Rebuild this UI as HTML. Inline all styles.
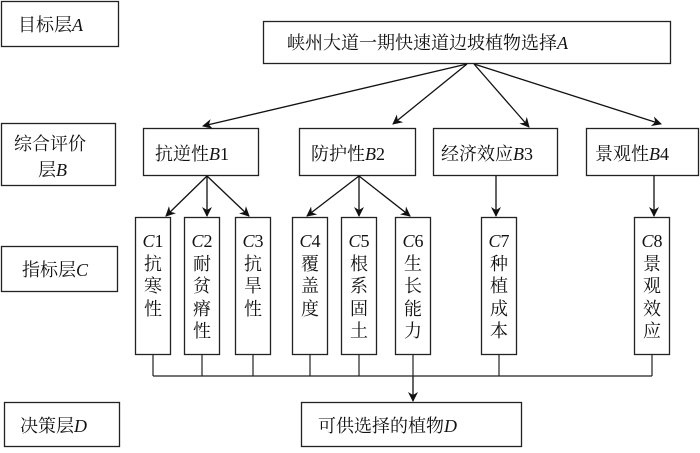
<!DOCTYPE html>
<html><head><meta charset="utf-8"><style>
body{margin:0;background:#fff}
svg text{font-family:"Liberation Serif","Noto Serif CJK SC","Noto Sans CJK SC",serif;font-size:18px;fill:#111}
.i{font-style:italic}
</style></head><body>
<svg width="700" height="448" viewBox="0 0 700 448" xmlns="http://www.w3.org/2000/svg">
<defs><marker id="ar" markerWidth="10" markerHeight="10" refX="9" refY="5" orient="auto" markerUnits="userSpaceOnUse"><path d="M0,0 L10,5 L0,10 L3,5 z" fill="#111"/></marker></defs>
<g fill="none" stroke="#222" stroke-width="1.3">
<rect x="1.5" y="1.5" width="117" height="45"/>
<rect x="1.5" y="123.5" width="114" height="62"/>
<rect x="1.5" y="246.5" width="116" height="45"/>
<rect x="4.5" y="402.5" width="115" height="44"/>
<rect x="263.5" y="21.5" width="407" height="42"/>
<rect x="143.5" y="128.5" width="115" height="47"/>
<rect x="299.5" y="128.5" width="116" height="47"/>
<rect x="433.5" y="128.5" width="124" height="47"/>
<rect x="586.5" y="128.5" width="112" height="47"/>
<rect x="135.5" y="217.5" width="35" height="137"/>
<rect x="184.5" y="217.5" width="35" height="137"/>
<rect x="235.5" y="217.5" width="35" height="137"/>
<rect x="292.5" y="217.5" width="35" height="137"/>
<rect x="341.5" y="217.5" width="35" height="137"/>
<rect x="395.5" y="217.5" width="35" height="137"/>
<rect x="481.5" y="217.5" width="35" height="137"/>
<rect x="634.5" y="217.5" width="35" height="137"/>
<rect x="301.5" y="402.5" width="220" height="44"/>
</g>
<g stroke="#111" stroke-width="1.3" fill="none" marker-end="url(#ar)">
<line x1="467" y1="64" x2="203" y2="126"/>
<line x1="467" y1="64" x2="393" y2="124"/>
<line x1="474" y1="64" x2="529" y2="127"/>
<line x1="474" y1="64" x2="661" y2="124"/>
<line x1="207" y1="176" x2="166" y2="216"/>
<line x1="207" y1="176" x2="207" y2="216"/>
<line x1="207" y1="176" x2="249" y2="216"/>
<line x1="359" y1="176" x2="307" y2="216"/>
<line x1="359" y1="176" x2="359" y2="216"/>
<line x1="359" y1="176" x2="410" y2="216"/>
<line x1="496" y1="176" x2="496" y2="216"/>
<line x1="654" y1="176" x2="654" y2="216"/>
<line x1="413" y1="376" x2="413" y2="401"/>
</g>
<g stroke="#222" stroke-width="1.2" fill="none">
<path d="M153,355V376M202,355V376M253,355V376M310,355V376M359,355V376M413,355V376M499,355V376M652,355V376M153,376H652"/>
</g>
<text x="18" y="31">目标层<tspan class="i">A</tspan></text>
<text x="14" y="150">综合评价</text>
<text x="38" y="176">层<tspan class="i">B</tspan></text>
<text x="22" y="276">指标层<tspan class="i">C</tspan></text>
<text x="20" y="432">决策层<tspan class="i">D</tspan></text>
<text x="287" y="49">峡州大道一期快速道边坡植物选择<tspan class="i">A</tspan></text>
<text x="155" y="160">抗逆性<tspan class="i">B</tspan>1</text>
<text x="311" y="160">防护性<tspan class="i">B</tspan>2</text>
<text x="441" y="160">经济效应<tspan class="i">B</tspan>3</text>
<text x="595" y="160">景观性<tspan class="i">B</tspan>4</text>
<text x="318" y="432">可供选择的植物<tspan class="i">D</tspan></text>
<g text-anchor="middle">
<text x="153" y="247"><tspan class="i">C</tspan>1</text><text x="153" y="270">抗</text><text x="153" y="292">寒</text><text x="153" y="315">性</text>
<text x="202" y="247"><tspan class="i">C</tspan>2</text><text x="202" y="270">耐</text><text x="202" y="292">贫</text><text x="202" y="315">瘠</text><text x="202" y="337">性</text>
<text x="253" y="247"><tspan class="i">C</tspan>3</text><text x="253" y="270">抗</text><text x="253" y="292">旱</text><text x="253" y="315">性</text>
<text x="310" y="247"><tspan class="i">C</tspan>4</text><text x="310" y="270">覆</text><text x="310" y="292">盖</text><text x="310" y="315">度</text>
<text x="359" y="247"><tspan class="i">C</tspan>5</text><text x="359" y="270">根</text><text x="359" y="292">系</text><text x="359" y="315">固</text><text x="359" y="337">土</text>
<text x="413" y="247"><tspan class="i">C</tspan>6</text><text x="413" y="270">生</text><text x="413" y="292">长</text><text x="413" y="315">能</text><text x="413" y="337">力</text>
<text x="499" y="247"><tspan class="i">C</tspan>7</text><text x="499" y="270">种</text><text x="499" y="292">植</text><text x="499" y="315">成</text><text x="499" y="337">本</text>
<text x="652" y="247"><tspan class="i">C</tspan>8</text><text x="652" y="270">景</text><text x="652" y="292">观</text><text x="652" y="315">效</text><text x="652" y="337">应</text>
</g>
</svg>
</body></html>
